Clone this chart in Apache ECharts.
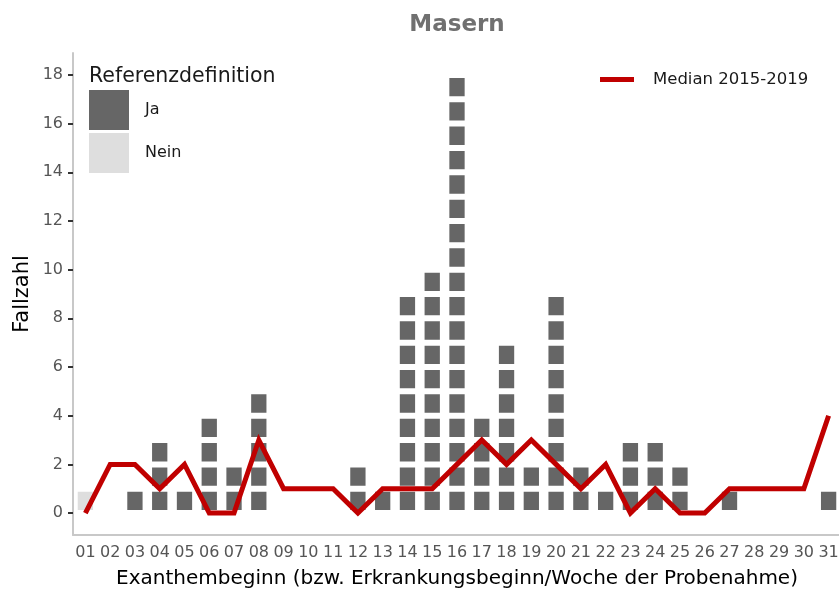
<!DOCTYPE html>
<html>
<head>
<meta charset="utf-8">
<script src="https://cdn.jsdelivr.net/npm/echarts@6/dist/echarts.min.js"></script>
<style>html,body{margin:0;padding:0;background:#fff}#c{width:839px;height:594px}</style>
</head>
<body>
<div id="c"></div>
<script>
const categories = ['01','02','03','04','05','06','07','08','09','10','11','12','13','14','15','16','17','18','19','20','21','22','23','24','25','26','27','28','29','30','31'];
const jaCounts   = [0,0,1,3,1,4,2,5,0,0,0,2,1,9,10,18,4,7,2,9,2,1,3,3,2,0,1,0,0,0,1];
const neinCounts = [1,0,0,0,0,0,0,0,0,0,0,0,0,0,0,0,0,0,0,0,0,0,0,0,0,0,0,0,0,0,0];
const median     = [0,2,2,1,2,0,0,3,1,1,1,0,1,1,1,2,3,2,3,2,1,2,0,1,0,0,1,1,1,1,4];
const yTicks = [0,2,4,6,8,10,12,14,16,18];

const FONT = '"DejaVu Sans"';
const chart = echarts.init(document.getElementById('c'), null, {renderer: 'canvas'});

function levelSeries(name, counts, color) {
  const maxC = Math.max.apply(null, counts);
  const out = [];
  for (let k = 1; k <= maxC; k++) {
    out.push({
      name: name,
      type: 'bar',
      stack: 'cases',
      barWidth: 21.3,
      data: counts.map(c => c >= k ? 1 : '-'),
      itemStyle: {color: color, borderColor: '#ffffff', borderWidth: 3},
      emphasis: {disabled: true},
      z: 2
    });
  }
  return out;
}

const series = []
  .concat(levelSeries('Nein', neinCounts, '#dedede'))
  .concat(levelSeries('Ja', jaCounts, '#666666'));
series.push({
  name: 'Median 2015-2019',
  type: 'line',
  data: median,
  showSymbol: false,
  symbol: 'none',
  lineStyle: {color: '#c00000', width: 5, cap: 'butt', join: 'miter'},
  itemStyle: {color: '#c00000'},
  z: 5
});

chart.setOption({
  animation: false,
  textStyle: {fontFamily: FONT},
  grid: {left: 73, right: -2, top: 53, bottom: 59, containLabel: false, outerBoundsMode: 'none'},
  legend: [
    {
      data: ['Ja', 'Nein'],
      orient: 'vertical',
      left: 89, top: 90, padding: 0,
      itemWidth: 40, itemHeight: 40, itemGap: 3,
      icon: 'rect',
      itemStyle: {borderWidth: 0},
      textStyle: {fontFamily: FONT, fontSize: 16, color: '#1a1a1a', padding: [0, 0, 0, 11]},
      selectedMode: false
    },
    {
      data: ['Median 2015-2019'],
      left: 600, top: 71, padding: 0,
      itemWidth: 34, itemHeight: 5,
      icon: 'rect',
      textStyle: {fontFamily: FONT, fontSize: 16.5, color: '#1a1a1a', padding: [0, 0, 0, 14]},
      selectedMode: false
    }
  ],
  graphic: [
    {type: 'text', x: 457, y: 25, style: {text: 'Masern', font: 'bold 23px ' + FONT, fill: '#707070', textAlign: 'center', textVerticalAlign: 'middle'}},
    {type: 'text', x: 89, y: 77, style: {text: 'Referenzdefinition', font: '20.5px ' + FONT, fill: '#1a1a1a', textAlign: 'left', textVerticalAlign: 'middle'}}
  ],
  xAxis: {
    type: 'category',
    data: categories,
    boundaryGap: true,
    name: 'Exanthembeginn (bzw. Erkrankungsbeginn/Woche der Probenahme)',
    nameLocation: 'middle',
    nameGap: 34,
    nameMoveOverlap: false,
    nameTextStyle: {fontFamily: FONT, fontSize: 20, color: '#000'},
    axisLine: {onZero: false, lineStyle: {color: '#c8c8c8', width: 2}},
    axisTick: {alignWithLabel: true, length: 5, lineStyle: {color: '#333', width: 2}},
    axisLabel: {fontFamily: FONT, fontSize: 16, color: '#555', margin: 10, interval: 0},
    splitLine: {show: false}
  },
  yAxis: {
    type: 'value',
    min: -0.9, max: 18.9,
    name: 'Fallzahl',
    nameLocation: 'middle',
    nameGap: 40,
    nameRotate: 90,
    nameMoveOverlap: false,
    nameTextStyle: {fontFamily: FONT, fontSize: 21, color: '#000'},
    axisLine: {show: true, onZero: false, lineStyle: {color: '#c8c8c8', width: 2}},
    axisTick: {show: true, length: 5, lineStyle: {color: '#333', width: 2}, customValues: yTicks},
    axisLabel: {fontFamily: FONT, fontSize: 16, color: '#555', margin: 10, customValues: yTicks},
    splitLine: {show: false}
  },
  series: series
});
</script>
</body>
</html>
